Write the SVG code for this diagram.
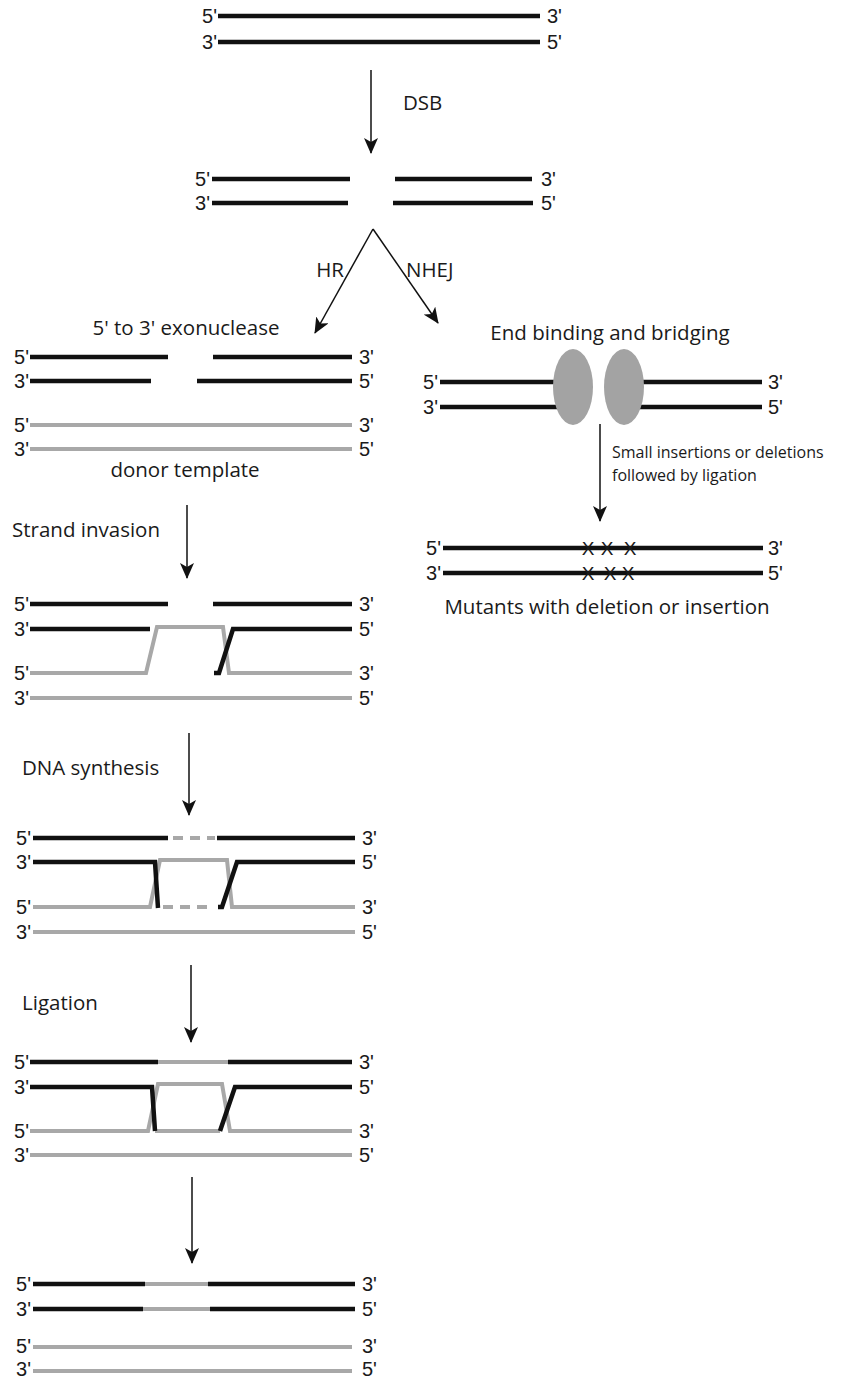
<svg xmlns="http://www.w3.org/2000/svg" width="858" height="1378" viewBox="0 0 858 1378">
<defs>
<style>
.k{stroke:#111;stroke-width:4.5;fill:none;stroke-linejoin:miter}
.g{stroke:#a8a8a8;stroke-width:4;fill:none}
.gd{stroke:#a8a8a8;stroke-width:4;fill:none;stroke-dasharray:10,7}
.lb{font-family:"Liberation Sans","Noto Sans",sans-serif;font-size:20px;fill:#1a1a1a}
.t{font-family:"Open Sans","Noto Sans",sans-serif;font-size:20.5px;fill:#1a1a1a}
.s{font-family:"Open Sans","Noto Sans",sans-serif;font-size:16px;fill:#1a1a1a}
.x{font-family:"Liberation Sans","Noto Sans",sans-serif;font-size:19px;fill:#1a1a1a;text-anchor:middle}
.ar{stroke:#111;stroke-width:1.5;fill:none;marker-end:url(#ah)}
.e{text-anchor:end}
.m{text-anchor:middle}
</style>
<marker id="ah" markerWidth="16" markerHeight="14" refX="15" refY="7" orient="auto" markerUnits="userSpaceOnUse">
<path d="M0,0 L16,7 L0,14 L4,7 z" fill="#111"/>
</marker>
</defs>
<rect width="858" height="1378" fill="#fff"/>

<g id="connectors">
<line class="ar" x1="371" y1="70" x2="371" y2="153"/>
<text class="t" x="403" y="110">DSB</text>
<line class="ar" x1="373" y1="229" x2="315" y2="333"/>
<line class="ar" x1="373" y1="229" x2="438" y2="323"/>
<text class="t e" x="344" y="277">HR</text>
<text class="t" x="406" y="277">NHEJ</text>
<line class="ar" x1="600" y1="424" x2="600" y2="521"/>
<text class="s" x="612" y="458">Small insertions or deletions</text>
<text class="s" x="612" y="481">followed by ligation</text>
<line class="ar" x1="187" y1="505" x2="187" y2="578"/>
<text class="t" x="12" y="537">Strand invasion</text>
<line class="ar" x1="189" y1="733" x2="189" y2="815"/>
<text class="t" x="22" y="775">DNA synthesis</text>
<line class="ar" x1="191" y1="965" x2="191" y2="1042"/>
<text class="t" x="22" y="1010">Ligation</text>
<line class="ar" x1="192" y1="1177" x2="192" y2="1263"/>
</g>

<g id="intact">
<line class="k" x1="218" y1="16" x2="540" y2="16"/>
<line class="k" x1="218" y1="42" x2="540" y2="42"/>
<text class="lb e" x="217" y="23">5'</text>
<text class="lb e" x="217" y="49">3'</text>
<text class="lb" x="547" y="23">3'</text>
<text class="lb" x="547" y="49">5'</text>
</g>

<g id="dsb">
<line class="k" x1="212" y1="179" x2="350" y2="179"/>
<line class="k" x1="395" y1="179" x2="532" y2="179"/>
<line class="k" x1="212" y1="203" x2="348" y2="203"/>
<line class="k" x1="393" y1="203" x2="533" y2="203"/>
<text class="lb e" x="210" y="186">5'</text>
<text class="lb e" x="210" y="210">3'</text>
<text class="lb" x="541" y="186">3'</text>
<text class="lb" x="541" y="210">5'</text>
</g>

<g id="hr-resection">
<text class="t m" x="186" y="335">5' to 3' exonuclease</text>
<line class="k" x1="30" y1="357" x2="168" y2="357"/>
<line class="k" x1="213" y1="357" x2="352" y2="357"/>
<line class="k" x1="30" y1="381" x2="151" y2="381"/>
<line class="k" x1="197" y1="381" x2="352" y2="381"/>
<line class="g" x1="30" y1="425" x2="352" y2="425"/>
<line class="g" x1="30" y1="449" x2="352" y2="449"/>
<text class="lb e" x="29" y="364">5'</text>
<text class="lb e" x="29" y="388">3'</text>
<text class="lb e" x="29" y="432">5'</text>
<text class="lb e" x="29" y="456">3'</text>
<text class="lb" x="359" y="364">3'</text>
<text class="lb" x="359" y="388">5'</text>
<text class="lb" x="359" y="432">3'</text>
<text class="lb" x="359" y="456">5'</text>
<text class="t m" x="185" y="477">donor template</text>
</g>

<g id="nhej-binding">
<text class="t m" x="610" y="340">End binding and bridging</text>
<line class="k" x1="440" y1="382" x2="575" y2="382"/>
<line class="k" x1="440" y1="407" x2="575" y2="407"/>
<line class="k" x1="620" y1="382" x2="762" y2="382"/>
<line class="k" x1="620" y1="407" x2="762" y2="407"/>
<ellipse cx="573" cy="387" rx="20" ry="38" fill="#a3a3a3"/>
<ellipse cx="624" cy="387" rx="20" ry="38" fill="#a3a3a3"/>
<text class="lb e" x="438" y="389">5'</text>
<text class="lb e" x="438" y="414">3'</text>
<text class="lb" x="768" y="389">3'</text>
<text class="lb" x="768" y="414">5'</text>
</g>

<g id="nhej-mutants">
<line class="k" x1="443" y1="548" x2="763" y2="548"/>
<line class="k" x1="443" y1="573" x2="763" y2="573"/>
<text class="x" x="588" y="555">X</text>
<text class="x" x="607" y="555">X</text>
<text class="x" x="630" y="555">X</text>
<text class="x" x="588" y="580">X</text>
<text class="x" x="610" y="580">X</text>
<text class="x" x="628" y="580">X</text>
<text class="lb e" x="441" y="555">5'</text>
<text class="lb e" x="441" y="580">3'</text>
<text class="lb" x="768" y="555">3'</text>
<text class="lb" x="768" y="580">5'</text>
<text class="t m" x="607" y="614">Mutants with deletion or insertion</text>
</g>

<g id="strand-invasion">
<path class="g" d="M30,673 L146,673 L157,627 L223,627 L229,673 L352,673"/>
<line class="g" x1="30" y1="698" x2="352" y2="698"/>
<line class="k" x1="30" y1="604" x2="168" y2="604"/>
<line class="k" x1="213" y1="604" x2="352" y2="604"/>
<line class="k" x1="30" y1="629" x2="150" y2="629"/>
<path class="k" d="M214,673 L219,673 L233,629 L352,629"/>
<text class="lb e" x="29" y="611">5'</text>
<text class="lb e" x="29" y="636">3'</text>
<text class="lb e" x="29" y="680">5'</text>
<text class="lb e" x="29" y="705">3'</text>
<text class="lb" x="359" y="611">3'</text>
<text class="lb" x="359" y="636">5'</text>
<text class="lb" x="359" y="680">3'</text>
<text class="lb" x="359" y="705">5'</text>
</g>

<g id="dna-synthesis">
<path class="g" d="M33,907 L150,907 L160,860 L227,860 L232,907 L355,907"/>
<line class="gd" x1="173" y1="838" x2="215" y2="838"/>
<line class="gd" x1="163" y1="907" x2="214" y2="907"/>
<line class="g" x1="33" y1="932" x2="355" y2="932"/>
<line class="k" x1="33" y1="838" x2="168" y2="838"/>
<line class="k" x1="217" y1="838" x2="355" y2="838"/>
<path class="k" d="M33,862 L155,862 L158,908"/>
<path class="k" d="M218,907 L222,907 L237,862 L355,862"/>
<text class="lb e" x="31" y="845">5'</text>
<text class="lb e" x="31" y="869">3'</text>
<text class="lb e" x="31" y="914">5'</text>
<text class="lb e" x="31" y="939">3'</text>
<text class="lb" x="362" y="845">3'</text>
<text class="lb" x="362" y="869">5'</text>
<text class="lb" x="362" y="914">3'</text>
<text class="lb" x="362" y="939">5'</text>
</g>

<g id="ligation">
<path class="g" d="M30,1131 L148,1131 L158,1084 L222,1084 L230,1131 L352,1131"/>
<line class="g" x1="155" y1="1131" x2="220" y2="1131"/>
<line class="g" x1="158" y1="1062" x2="228" y2="1062"/>
<line class="g" x1="30" y1="1155" x2="352" y2="1155"/>
<line class="k" x1="30" y1="1062" x2="158" y2="1062"/>
<line class="k" x1="228" y1="1062" x2="352" y2="1062"/>
<path class="k" d="M30,1087 L152,1087 L155,1131"/>
<path class="k" d="M220,1131 L235,1087 L352,1087"/>
<text class="lb e" x="29" y="1069">5'</text>
<text class="lb e" x="29" y="1094">3'</text>
<text class="lb e" x="29" y="1138">5'</text>
<text class="lb e" x="29" y="1162">3'</text>
<text class="lb" x="359" y="1069">3'</text>
<text class="lb" x="359" y="1094">5'</text>
<text class="lb" x="359" y="1138">3'</text>
<text class="lb" x="359" y="1162">5'</text>
</g>

<g id="repaired">
<line class="g" x1="145" y1="1284" x2="208" y2="1284"/>
<line class="g" x1="143" y1="1309" x2="210" y2="1309"/>
<line class="g" x1="33" y1="1347" x2="352" y2="1347"/>
<line class="g" x1="33" y1="1371" x2="352" y2="1371"/>
<line class="k" x1="33" y1="1284" x2="145" y2="1284"/>
<line class="k" x1="208" y1="1284" x2="355" y2="1284"/>
<line class="k" x1="33" y1="1309" x2="143" y2="1309"/>
<line class="k" x1="210" y1="1309" x2="355" y2="1309"/>
<text class="lb e" x="31" y="1291">5'</text>
<text class="lb e" x="31" y="1316">3'</text>
<text class="lb e" x="31" y="1353">5'</text>
<text class="lb e" x="31" y="1376">3'</text>
<text class="lb" x="362" y="1291">3'</text>
<text class="lb" x="362" y="1316">5'</text>
<text class="lb" x="362" y="1353">3'</text>
<text class="lb" x="362" y="1376">5'</text>
</g>
</svg>
